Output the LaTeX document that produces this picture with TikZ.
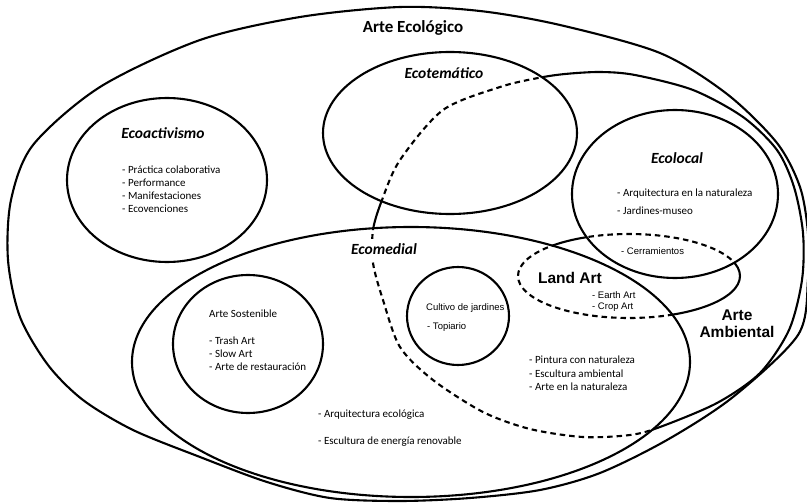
\documentclass[tikz,border=0pt]{standalone}
\usepackage{fontspec}
\setmainfont{Carlito}
\newfontfamily\arialf{Liberation Sans}
\begin{document}
\begin{tikzpicture}[x=1pt,y=-1pt,
  shp/.style={line width=2.1pt, line join=round},
  dsh/.style={line width=2.1pt, dash pattern=on 5.5pt off 4pt},
  ttl/.style={font=\fontsize{17}{20}\selectfont\bfseries, inner sep=0pt},
  sub/.style={font=\fontsize{15.5}{18}\selectfont\bfseries\itshape, inner sep=0pt},
  lst/.style={font=\fontsize{11}{13}\selectfont, align=left, inner sep=0pt, anchor=west},
  alst/.style={font=\arialf\fontsize{9.5}{11}\selectfont, align=left, inner sep=0pt, anchor=west},
  bigt/.style={font=\arialf\fontsize{15.5}{17}\selectfont\bfseries, align=center, inner sep=0pt},
  outerp/.style={insert path={plot[smooth cycle] coordinates {(400,7) (480,11) (560,25) (660,53) (727,94) (777,143) (800,187) (808,233) (808,280) (798,335) (733,397) (667,440) (600,473) (540,490) (470,498) (400,501) (330,498) (267,482) (200,457) (133,430) (83,400) (48,365) (20,317) (8,260) (11,200) (33,145) (100,87) (200,40) (300,17)}}},
  ecotem/.style={insert path={(450,133) ellipse [x radius=127pt, y radius=81pt]}},
  ecomed/.style={insert path={(411,362) ellipse [x radius=279pt, y radius=135pt]}},
  ecoloc/.style={insert path={(675,194) ellipse [x radius=103pt, y radius=84pt]}},
  landart/.style={insert path={(629,276) ellipse [x radius=111pt, y radius=42pt]}},
  ambient/.style={insert path={plot[smooth cycle] coordinates {(538,78) (565,74) (600,72) (635,75) (693,90) (743,117) (777,150) (794,187) (803,233) (802,280) (789,330) (760,373) (717,403) (660,427) (630,435) (583,437) (530,429) (483,412) (433,380) (400,347) (383,300) (373,263) (373,230) (382,200) (400,160) (443,110) (500,87)}}},
  bigbox/.style={insert path={(-50,-50) rectangle (860,560)}},
]
\fill[white] (0,0) rectangle (807,503);
\useasboundingbox (0,0) rectangle (807,503);

% main sets
\draw[shp, outerp];
\draw[shp] (167,180) ellipse [x radius=100pt, y radius=82pt];
\draw[shp, ecotem];
\draw[shp, ecoloc];
\draw[shp, ecomed];
\draw[shp] (248,344) ellipse [x radius=75pt, y radius=69pt];
\draw[shp] (458,316) ellipse [x radius=51pt, y radius=49pt];

% Arte Ambiental: dashed inside other sets, solid elsewhere
\begin{scope}
  \clip[ecotem];
  \draw[dsh, ambient];
\end{scope}
\begin{scope}
  \clip[ecomed];
  \draw[dsh, ambient];
\end{scope}
\begin{scope}[even odd rule]
  \clip[bigbox, ecotem, ecomed];
  \draw[shp, ambient];
\end{scope}

% Land Art
\begin{scope}
  \clip[ecomed];
  \draw[dsh, landart];
\end{scope}
\begin{scope}
  \clip[ecoloc];
  \draw[dsh, landart];
\end{scope}
\begin{scope}[even odd rule]
  \clip[bigbox, ecomed, ecoloc];
  \draw[shp, landart];
\end{scope}

% labels
\node[ttl] (tEco) at (413,28) {Arte Ecológico};
\node[sub] (tTem) at (444,73) {Ecotemático};
\node[sub] (tAct) at (163,133) {Ecoactivismo};
\node[sub] (tLoc) at (677,158) {Ecolocal};
\node[sub, fill=white, inner ysep=5pt, inner xsep=1pt] (tMed) at (384,249) {Ecomedial};

\node[lst] (lAct) at (122,189.5) {- Práctica colaborativa\\- Performance\\- Manifestaciones\\- Ecovenciones};
\node[lst, font=\fontsize{11}{18}\selectfont] (lLoc) at (617,202) {- Arquitectura en la naturaleza\\- Jardines-museo};
\node[alst] (lCer) at (621,251) {- Cerramientos};

\node[bigt] (tLand) at (570,278) {Land Art};
\node[alst] (lLand) at (592,301.5) {- Earth Art\\- Crop Art};
\node[bigt] (tAmb) at (737,323.5) {Arte\\Ambiental};

\node[alst] (tCul) at (426,308) {Cultivo de jardines};
\node[alst] (lCul) at (427,327) {- Topiario};

\node[lst] (tSos) at (209,314) {Arte Sostenible};
\node[lst] (lSos) at (209,354) {- Trash Art\\- Slow Art\\- Arte de restauración};

\node[lst, font=\fontsize{11}{13.5}\selectfont] (lAmb) at (529,373.5) {- Pintura con naturaleza\\- Escultura ambiental\\- Arte en la naturaleza};

\node[lst] (lMed1) at (318,415) {- Arquitectura ecológica};
\node[lst] (lMed2) at (318,442) {- Escultura de energía renovable};
\end{tikzpicture}
\end{document}
